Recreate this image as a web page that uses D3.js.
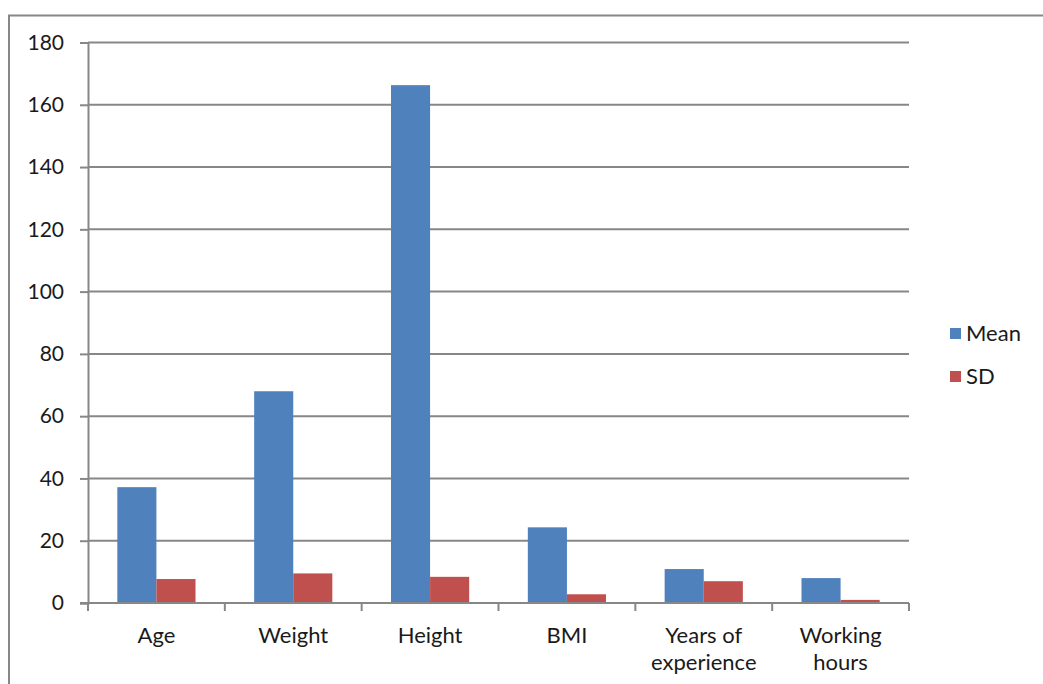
<!DOCTYPE html>
<html>
<head>
<meta charset="utf-8">
<script src="https://cdn.jsdelivr.net/npm/d3@7"></script>
<style>
  html, body { margin: 0; padding: 0; background: #fff; }
  svg { display: block; }
  text { font-family: Lato, "Noto Sans", sans-serif; fill: #1a1a1a; }
</style>
</head>
<body>
<svg id="chart" width="1043" height="684"></svg>
<script>
// Descriptive statistics of the sample
const categories = [["Age"], ["Weight"], ["Height"], ["BMI"], ["Years of", "experience"], ["Working", "hours"]];
const meanValues = [37.2, 68.0, 166.3, 24.3, 10.9, 8.0];
const sdValues = [7.7, 9.5, 8.4, 2.8, 7.0, 1.0];
const seriesNames = ["Mean", "SD"];
const seriesColors = ["#4F81BD", "#C0504D"];
const yTicks = [0, 20, 40, 60, 80, 100, 120, 140, 160, 180];

const svg = d3.select("#chart");
const grey = "#878787";

// outer chart frame (runs past the right and bottom edges)
svg.append("rect")
  .attr("x", 9).attr("y", 15.5)
  .attr("width", 1100).attr("height", 700)
  .attr("fill", "none").attr("stroke", grey).attr("stroke-width", 2);

const plot = { left: 88, right: 909, top: 42.5, bottom: 603 };

const keys = categories.map(c => c.join(" "));
const x = d3.scaleBand().domain(keys).range([plot.left, plot.right]).paddingInner(0).paddingOuter(0);
const inner = d3.scaleBand().domain(seriesNames).range([0, x.bandwidth()]).paddingInner(0).paddingOuter(0.75);
const y = d3.scaleLinear().domain([0, 180]).range([plot.bottom, plot.top]);

// horizontal gridlines with left tick marks
const yAxis = d3.axisLeft(y).tickValues(yTicks).tickSize(8).tickPadding(16).tickFormat(d3.format("d"));
const gy = svg.append("g").attr("transform", `translate(${plot.left},0)`).call(yAxis);
gy.select(".domain").attr("stroke", grey).attr("stroke-width", 2);
gy.selectAll(".tick line").attr("stroke", grey).attr("stroke-width", 2);
gy.selectAll(".tick text").attr("font-size", 21).attr("fill", "#1a1a1a")
  .style("font-family", "Lato, 'Noto Sans', sans-serif");
svg.append("g").selectAll("line").data(yTicks.filter(d => d > 0)).join("line")
  .attr("x1", plot.left).attr("x2", plot.right)
  .attr("y1", d => y(d)).attr("y2", d => y(d))
  .attr("stroke", grey).attr("stroke-width", 2);

// bars
const rows = keys.map((k, i) => ({ key: k, values: [meanValues[i], sdValues[i]] }));
const groups = svg.append("g").selectAll("g").data(rows).join("g")
  .attr("transform", d => `translate(${x(d.key)},0)`);
groups.selectAll("rect").data(d => d.values.map((v, j) => ({ name: seriesNames[j], value: v, j })))
  .join("rect")
  .attr("x", d => inner(d.name))
  .attr("width", inner.bandwidth())
  .attr("y", d => y(d.value))
  .attr("height", d => y(0) - y(d.value))
  .attr("fill", d => seriesColors[d.j]);

// x axis baseline and category ticks
const xEdges = keys.map(k => x(k)).concat([x(keys[keys.length - 1]) + x.bandwidth()]);
svg.append("line").attr("x1", plot.left - 8).attr("x2", plot.right)
  .attr("y1", plot.bottom).attr("y2", plot.bottom)
  .attr("stroke", grey).attr("stroke-width", 2);
svg.append("g").selectAll("line").data(xEdges).join("line")
  .attr("x1", d => d).attr("x2", d => d)
  .attr("y1", plot.bottom).attr("y2", plot.bottom + 8)
  .attr("stroke", grey).attr("stroke-width", 2);

// category labels
const labels = svg.append("g").selectAll("text").data(categories).join("text")
  .attr("text-anchor", "middle")
  .attr("font-size", 22)
  .attr("transform", (d, i) => `translate(${x(keys[i]) + x.bandwidth() / 2},643)`);
labels.selectAll("tspan").data(d => d).join("tspan")
  .attr("x", 0).attr("dy", (d, i) => i === 0 ? 0 : 27).text(d => d);

// legend
const legend = svg.append("g").selectAll("g").data(seriesNames).join("g")
  .attr("transform", (d, i) => `translate(950,${328 + i * 43})`);
legend.append("rect").attr("width", 11).attr("height", 11).attr("fill", (d, i) => seriesColors[i]);
legend.append("text").attr("x", 16).attr("y", 5.5).attr("dy", "0.35em")
  .attr("font-size", 22).text(d => d);
</script>
</body>
</html>
